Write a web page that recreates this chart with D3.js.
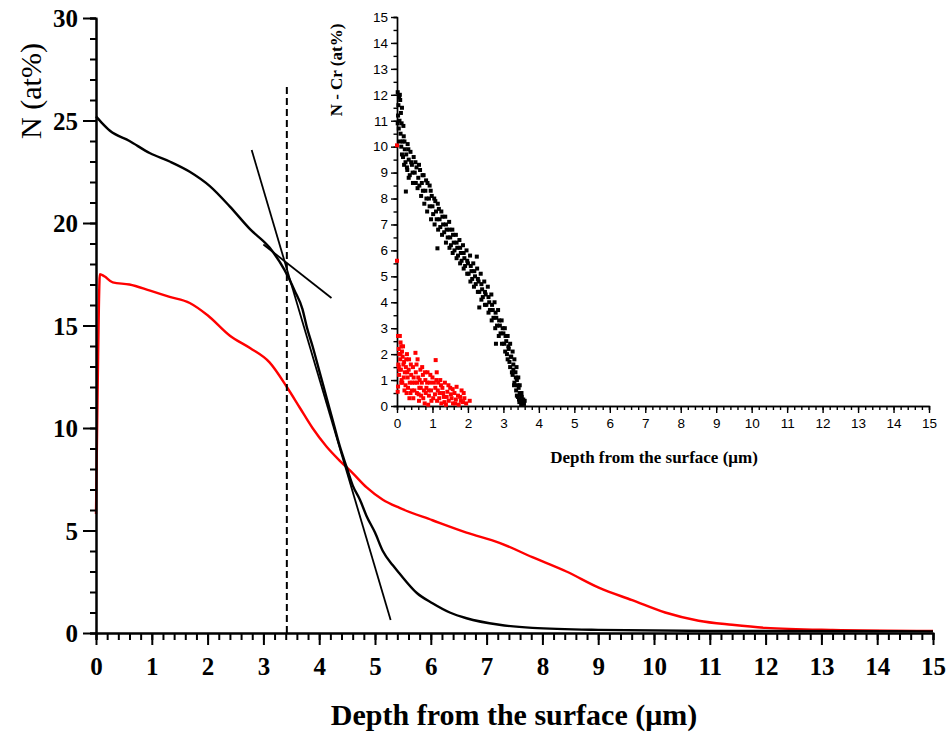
<!DOCTYPE html>
<html lang="en">
<head>
<meta charset="UTF-8">
<title>N depth profile</title>
<script src="https://d3js.org/d3.v7.min.js"></script>
<style>
  body { margin: 0; background: #fff; }
  svg { display: block; background: #fff; }
  .serif { font-family: "Times New Roman", "Liberation Serif", serif; }
  .sans { font-family: Arial, "Liberation Sans", sans-serif; }
</style>
</head>
<body>
<script>
// main profile, black curve (depth in um, N in at%)
const blackX = [0, 0.1, 0.25, 0.6, 0.97, 1.32, 1.68, 2.04, 2.4, 2.76, 3.11, 3.38, 3.56, 3.7, 3.78, 3.88, 4.0, 4.13, 4.24, 4.37, 4.49, 4.6, 4.73, 4.85, 5.0, 5.14, 5.32, 5.44, 5.75, 6.03, 6.34, 6.64, 7.23, 7.82, 9.0, 11.0, 15.0];
const blackY = [25.2, 24.9, 24.5, 24.0, 23.4, 23.0, 22.5, 21.8, 20.8, 19.7, 18.8, 17.7, 16.7, 15.8, 14.9, 14.0, 12.8, 11.5, 10.4, 9.1, 8.1, 7.2, 6.5, 5.7, 4.9, 4.0, 3.3, 2.9, 1.95, 1.45, 1.0, 0.72, 0.4, 0.25, 0.15, 0.1, 0.08];

// main profile, red curve
const redX = [0, 0.03, 0.07, 0.15, 0.3, 0.6, 0.97, 1.32, 1.68, 2.0, 2.4, 2.76, 3.11, 3.42, 3.65, 3.88, 4.13, 4.37, 4.6, 4.85, 5.14, 5.44, 6.03, 6.64, 7.23, 7.82, 8.43, 9.02, 9.61, 10.2, 10.8, 11.4, 12.0, 13.2, 15.0];
const redY = [5.8, 12.0, 17.5, 17.4, 17.1, 17.0, 16.7, 16.4, 16.1, 15.5, 14.5, 13.9, 13.2, 12.0, 11.0, 10.0, 9.1, 8.4, 7.8, 7.1, 6.5, 6.1, 5.5, 4.9, 4.4, 3.7, 3.0, 2.2, 1.6, 1.0, 0.6, 0.4, 0.25, 0.15, 0.1];

// tangent lines and the dashed marker
const tangentSteep = [[2.79, 23.56], [5.28, 0.63]];
const tangentFlat = [[3.0, 18.95], [4.22, 16.34]];
const markerDepth = 3.42;
const markerTop = 26.7;

// inset: N - Cr scatter
const insetBlack = [[0.02,12.1],[0.06,11.9],[0.04,11.6],[0.09,11.8],[0.03,11.2],[0.07,11.0],[0.11,11.3],[0.05,10.7],[0.13,10.9],[0.1,10.5],[0.16,10.2],[0.12,10.0],[0.19,10.4],[0.22,9.9],[0.17,9.6],[0.26,9.7],[0.3,10.1],[0.24,9.4],[0.33,9.5],[0.38,9.8],[0.29,9.1],[0.42,9.3],[0.47,9.6],[0.36,8.9],[0.5,9.0],[0.55,9.2],[0.45,8.6],[0.6,8.8],[0.65,9.1],[0.25,8.27],[0.58,8.4],[0.7,8.6],[0.75,8.9],[0.68,8.1],[0.8,8.3],[0.86,8.6],[0.77,7.8],[0.9,8.0],[0.95,8.3],[0.85,7.5],[1.0,7.7],[1.05,8.0],[0.96,7.2],[1.1,7.5],[1.15,7.8],[1.06,7.0],[1.2,7.2],[1.25,7.5],[1.16,6.8],[1.3,7.0],[1.36,7.3],[1.27,6.6],[1.4,6.8],[1.47,7.1],[1.38,6.3],[1.5,6.5],[1.56,6.8],[1.48,6.1],[1.14,6.08],[1.6,6.3],[1.66,6.6],[1.57,5.9],[1.7,6.1],[1.76,6.4],[1.68,5.7],[1.8,5.9],[1.86,6.2],[1.78,5.5],[1.9,5.7],[1.96,6.0],[1.88,5.3],[2.0,5.5],[2.06,5.8],[1.98,5.1],[2.25,5.76],[2.1,5.2],[2.15,5.5],[2.07,4.8],[2.2,5.0],[2.26,5.3],[2.17,4.6],[2.3,4.8],[2.36,5.1],[2.28,4.4],[2.4,4.5],[2.46,4.8],[2.38,4.1],[2.5,4.3],[2.56,4.6],[2.48,3.9],[2.6,4.0],[2.66,4.3],[2.58,3.6],[2.32,3.8],[2.7,3.7],[2.75,4.0],[2.67,3.3],[2.8,3.4],[2.85,3.7],[2.77,3.0],[2.9,3.1],[2.95,3.3],[2.87,2.7],[3.0,2.8],[3.04,3.0],[2.96,2.4],[2.79,2.4],[3.08,2.5],[3.12,2.7],[3.05,2.1],[3.15,2.2],[3.19,2.4],[3.12,1.8],[3.22,1.9],[3.26,2.1],[3.19,1.5],[3.28,1.6],[3.31,1.8],[3.26,1.2],[3.34,1.3],[3.37,1.5],[3.31,0.9],[3.38,1.0],[3.42,1.1],[3.36,0.6],[3.43,0.7],[3.46,0.8],[3.41,0.35],[3.48,0.45],[3.51,0.5],[3.45,0.15],[3.53,0.2],[3.56,0.25],[3.5,0.05],[3.58,0.08],
  [0.08,12.0],[0.14,11.5],[0.02,10.9],[0.18,10.8],[0.08,10.2],[0.21,10.2],[0.14,9.7],[0.32,9.9],[0.2,9.3],[0.4,9.4],[0.28,9.2],[0.52,9.4],[0.33,8.8],[0.44,9.0],[0.62,9.3],[0.53,8.6],[0.72,8.9],[0.63,8.5],[0.82,8.7],[0.73,8.3],[0.92,8.5],[0.83,8.0],[0.98,8.1],[0.92,7.7],[1.08,7.9],[1.02,7.4],[1.18,7.6],[1.12,7.2],[1.28,7.3],[1.22,6.9],[1.38,7.0],[1.33,6.7],[1.48,6.8],[1.43,6.5],[1.58,6.6],[1.52,6.2],[1.68,6.3],[1.62,6.0],[1.78,6.1],[1.72,5.8],[1.88,5.9],[1.82,5.6],[1.98,5.6],[1.92,5.4],[2.08,5.4],[2.02,5.1],[2.18,5.2],[2.12,4.9],[2.28,4.9],[2.22,4.7],[2.38,4.7],[2.32,4.4],[2.48,4.4],[2.42,4.2],[2.58,4.2],[2.52,3.9],[2.68,3.9],[2.62,3.7],[2.78,3.6],[2.72,3.4],[2.88,3.3],[2.82,3.1],[2.98,3.0],[2.92,2.8],[3.06,2.7],[3.02,2.4],[3.14,2.3],[3.1,2.0],[3.21,1.9],[3.17,1.7],[3.28,1.4],[3.24,1.3],[3.35,1.1],[3.3,0.8],[3.4,0.8],[3.38,0.4],[3.46,0.5],[3.44,0.25],[3.52,0.35],[3.55,0.1],[3.6,0.2]];
const insetRed = [[0.02,0.55],[0.03,0.75],[0.04,1.6],[0.05,1.5],[0.03,2.7],[0.08,2.7],[0.1,2.45],[0.12,2.3],[0.07,2.0],[0.14,2.1],[0.09,1.8],[0.16,1.9],[0.11,1.4],[0.18,1.6],[0.06,1.2],[0.2,1.7],[0.13,1.0],[0.22,1.3],[0.15,0.9],[0.25,1.5],[0.28,2.0],[0.24,0.8],[0.3,1.1],[0.33,1.4],[0.27,0.5],[0.36,0.9],[0.4,1.2],[0.35,0.3],[0.42,0.6],[0.45,1.5],[0.52,2.05],[0.5,0.9],[0.53,1.3],[0.46,0.3],[0.56,0.5],[0.6,1.1],[0.58,1.8],[0.63,0.7],[0.66,1.4],[0.62,0.2],[0.7,0.9],[0.73,1.2],[0.68,0.4],[0.76,0.6],[0.8,1.0],[0.78,0.1],[0.83,0.7],[0.86,1.3],[0.9,0.4],[0.93,0.9],[0.88,0.05],[0.96,0.6],[1.0,1.1],[1.02,0.3],[1.09,1.77],[1.08,0.7],[1.12,1.3],[1.13,0.2],[1.16,0.9],[1.2,0.5],[1.22,1.0],[1.25,0.1],[1.28,0.7],[1.32,0.35],[1.35,0.9],[1.38,0.05],[1.42,0.55],[1.46,0.2],[1.5,0.7],[1.54,0.3],[1.58,0.1],[1.62,0.5],[1.68,0.74],[1.66,0.25],[1.74,0.05],[1.78,0.35],[1.82,0.6],[1.86,0.15],[1.9,0.3],[1.95,0.1],[2.05,0.2],[0.0,10.05],[0.0,5.6],
  [0.05,2.2],[0.07,1.4],[0.1,2.0],[0.12,0.9],[0.17,2.3],[0.19,1.1],[0.21,0.6],[0.26,1.8],[0.29,1.3],[0.31,0.7],[0.34,1.8],[0.38,0.5],[0.39,1.6],[0.43,0.9],[0.47,1.1],[0.49,0.6],[0.55,1.6],[0.57,0.9],[0.61,0.45],[0.64,1.0],[0.67,0.7],[0.71,1.5],[0.74,0.3],[0.79,1.3],[0.81,0.5],[0.85,0.9],[0.89,0.6],[0.94,1.2],[0.97,0.2],[1.04,0.9],[1.07,0.45],[1.11,1.0],[1.15,0.6],[1.19,0.3],[1.24,0.8],[1.3,0.5],[1.34,0.15],[1.4,0.35],[1.45,0.8],[1.52,0.45],[1.57,0.65],[1.64,0.1],[1.72,0.4],[1.8,0.2],[1.88,0.5]];

const mainXTicks = d3.range(0, 16, 1);
const mainYTicks = [0, 5, 10, 15, 20, 25, 30];
const insetXTicks = d3.range(0, 16, 1);
const insetYTicks = d3.range(0, 16, 1);

const w = 952, h = 739;

const svg = d3.select("body").append("svg")
  .attr("width", w).attr("height", h);

// ---------- main chart ----------
const x = d3.scaleLinear().domain([0, 15]).range([96, 933]);
const y = d3.scaleLinear().domain([0, 30]).range([633, 18]);

const curve = d3.line().x(d => x(d[0])).y(d => y(d[1])).curve(d3.curveMonotoneX);
const line = d3.line().x(d => x(d[0])).y(d => y(d[1]));

svg.append("path")
  .datum(redX.map((v, i) => [v, redY[i]]))
  .attr("d", curve)
  .attr("fill", "none").attr("stroke", "#ff0000").attr("stroke-width", 2.4);

svg.append("path")
  .datum(blackX.map((v, i) => [v, blackY[i]]))
  .attr("d", curve)
  .attr("fill", "none").attr("stroke", "#000").attr("stroke-width", 2.4);

[tangentSteep, tangentFlat].forEach(t => {
  svg.append("path").datum(t).attr("d", line)
    .attr("fill", "none").attr("stroke", "#000").attr("stroke-width", 1.8);
});

svg.append("line")
  .attr("x1", x(markerDepth)).attr("x2", x(markerDepth))
  .attr("y1", y(0)).attr("y2", y(markerTop))
  .attr("stroke", "#000").attr("stroke-width", 2)
  .attr("stroke-dasharray", "7,4");

// minor ticks first, then major axes on top
svg.append("g")
  .attr("transform", "translate(0," + y(0) + ")")
  .call(d3.axisBottom(x).tickValues(d3.range(0, 15.01, 0.2)).tickSize(7).tickFormat(""));
svg.append("g")
  .attr("transform", "translate(" + x(0) + ",0)")
  .call(d3.axisLeft(y).tickValues(d3.range(0, 30.01, 1)).tickSize(6).tickFormat(""));

const gx = svg.append("g")
  .attr("transform", "translate(0," + y(0) + ")")
  .call(d3.axisBottom(x).tickValues(mainXTicks).tickSize(12).tickSizeOuter(0).tickPadding(12).tickFormat(d3.format("d")));
const gy = svg.append("g")
  .attr("transform", "translate(" + x(0) + ",0)")
  .call(d3.axisLeft(y).tickValues(mainYTicks).tickSize(13).tickSizeOuter(0).tickPadding(5).tickFormat(d3.format("d")));

svg.selectAll("g").selectAll("path.domain, line")
  .attr("stroke", "#000").attr("stroke-width", 2);

[gx, gy].forEach(g => g.selectAll("text")
  .attr("class", "serif")
  .attr("font-size", 25).attr("font-weight", "bold").attr("fill", "#000"));
gy.selectAll("text").attr("dy", "0.34em");

svg.append("text").attr("class", "serif")
  .attr("x", 514).attr("y", 725)
  .attr("text-anchor", "middle")
  .attr("font-size", 30).attr("font-weight", "bold")
  .text("Depth from the surface (\u03bcm)");

svg.append("text").attr("class", "serif")
  .attr("transform", "translate(41,91) rotate(-90)")
  .attr("text-anchor", "middle")
  .attr("font-size", 30)
  .text("N (at%)");

// ---------- inset ----------
const ix = d3.scaleLinear().domain([0, 15]).range([397, 929]);
const iy = d3.scaleLinear().domain([0, 15]).range([406, 17]);

const inset = svg.append("g");

inset.append("g")
  .attr("transform", "translate(0," + iy(0) + ")")
  .call(d3.axisBottom(ix).tickValues(d3.range(0, 15.01, 0.2)).tickSize(4).tickFormat(""));
inset.append("g")
  .attr("transform", "translate(" + ix(0) + ",0)")
  .call(d3.axisLeft(iy).tickValues(d3.range(0, 15.01, 0.5)).tickSize(3.5).tickFormat(""));

const igx = inset.append("g")
  .attr("transform", "translate(0," + iy(0) + ")")
  .call(d3.axisBottom(ix).tickValues(insetXTicks).tickSize(7).tickSizeOuter(0).tickPadding(5));
const igy = inset.append("g")
  .attr("transform", "translate(" + ix(0) + ",0)")
  .call(d3.axisLeft(iy).tickValues(insetYTicks).tickSize(6).tickSizeOuter(0).tickPadding(3));

inset.selectAll("g").selectAll("path.domain, line")
  .attr("stroke", "#000").attr("stroke-width", 1.4);
[igx, igy].forEach(g => g.selectAll("text")
  .attr("class", "sans").attr("font-size", 13.5).attr("fill", "#000"));

const sq = 4;
inset.append("g").selectAll("rect")
  .data(insetRed).enter().append("rect")
  .attr("x", d => ix(d[0]) - sq / 2).attr("y", d => iy(d[1]) - sq / 2)
  .attr("width", sq).attr("height", sq)
  .attr("fill", "#ff0000");

inset.append("g").selectAll("rect")
  .data(insetBlack).enter().append("rect")
  .attr("x", d => ix(d[0]) - sq / 2).attr("y", d => iy(d[1]) - sq / 2)
  .attr("width", sq).attr("height", sq)
  .attr("fill", "#000");

inset.append("text").attr("class", "serif")
  .attr("x", 654).attr("y", 463)
  .attr("text-anchor", "middle")
  .attr("font-size", 17).attr("font-weight", "bold")
  .text("Depth from the surface (\u03bcm)");

inset.append("text").attr("class", "serif")
  .attr("transform", "translate(342,70) rotate(-90)")
  .attr("text-anchor", "middle")
  .attr("font-size", 17).attr("font-weight", "bold")
  .text("N - Cr (at%)");
</script>
</body>
</html>
